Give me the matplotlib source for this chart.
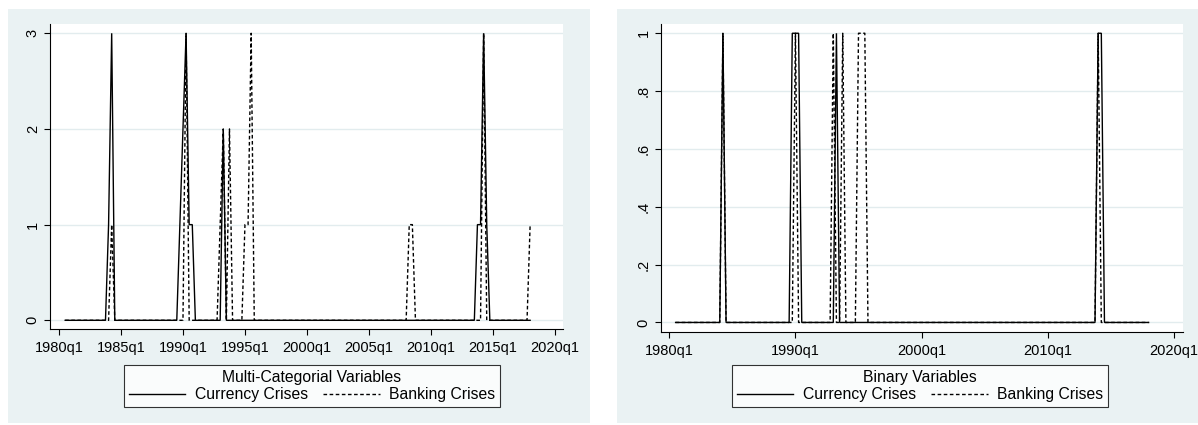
import numpy as np
import pandas as pd
import matplotlib
matplotlib.use("Agg")
import matplotlib.pyplot as plt
from matplotlib.patches import Rectangle

plt.rcParams["font.family"] = ["Liberation Sans", "DejaVu Sans"]

# Quarterly sample
quarters = pd.period_range("1980Q3", "2018Q1", freq="Q")

# Multi-categorial crisis indicators (0 in all other quarters)
currency_multi = {
    "1984Q1": 1, "1984Q2": 3,
    "1989Q4": 1, "1990Q1": 2, "1990Q2": 3, "1990Q3": 1, "1990Q4": 1,
    "1993Q2": 2,
    "2013Q4": 1, "2014Q1": 1, "2014Q2": 3, "2014Q3": 1,
}
banking_multi = {
    "1984Q2": 1,
    "1990Q2": 3,
    "1993Q1": 1, "1993Q2": 2, "1993Q4": 2,
    "1995Q1": 1, "1995Q2": 1, "1995Q3": 3,
    "2008Q2": 1, "2008Q3": 1,
    "2014Q2": 3,
    "2018Q1": 1,
}

# Binary crisis indicators (0 in all other quarters)
currency_binary = {
    "1984Q2": 1,
    "1989Q4": 1, "1990Q1": 1, "1990Q2": 1,
    "1993Q2": 1,
    "2014Q1": 1, "2014Q2": 1,
}
banking_binary = {
    "1984Q2": 1,
    "1990Q1": 1,
    "1993Q1": 1, "1993Q4": 1,
    "1995Q1": 1, "1995Q2": 1, "1995Q3": 1,
    "2014Q1": 1,
}

left_yticks = [0, 1, 2, 3]
left_yticklabels = ["0", "1", "2", "3"]
right_yticks = [0, 0.2, 0.4, 0.6, 0.8, 1.0]
right_yticklabels = ["0", ".2", ".4", ".6", ".8", "1"]
left_xtick_years = [1980, 1985, 1990, 1995, 2000, 2005, 2010, 2015, 2020]
right_xtick_years = [1980, 1990, 2000, 2010, 2020]


def qindex(p):
    return (p.year - 1980) * 4 + (p.quarter - 1)


def build(events):
    s = pd.Series(0.0, index=quarters)
    for k, v in events.items():
        s[pd.Period(k, freq="Q")] = v
    return s


xq = np.array([qindex(p) for p in quarters])

W, H = 1198, 425
fig = plt.figure(figsize=(W / 100, H / 100), dpi=100)
fig.patch.set_facecolor("white")

BG = "#EAF2F3"
GRID = "#E2ECEE"

# graph regions
for x0, x1 in [(8, 590), (617, 1198)]:
    fig.patches.append(Rectangle((x0 / W, 1 - 423 / H), (x1 - x0) / W, (423 - 9) / H,
                                 transform=fig.transFigure, facecolor=BG,
                                 edgecolor="none", zorder=-10))


def px_axes(x0, x1, ytop, ybot):
    return fig.add_axes([x0 / W, 1 - ybot / H, (x1 - x0) / W, (ybot - ytop) / H])


def style(ax, yticks, ylabels, xyears, xlim, ylim):
    ax.set_facecolor("white")
    ax.set_xlim(*xlim)
    ax.set_ylim(*ylim)
    for s in ["top", "right"]:
        ax.spines[s].set_visible(False)
    for s in ["left", "bottom"]:
        ax.spines[s].set_color("black")
        ax.spines[s].set_linewidth(0.8)
    ax.set_yticks(yticks)
    ax.set_yticklabels(ylabels, rotation=90, va="center")
    ax.set_xticks([(y - 1980) * 4 for y in xyears])
    ax.set_xticklabels([f"{y}q1" for y in xyears])
    ax.tick_params(axis="both", direction="out", length=4.3, width=0.8,
                   color="black", labelsize=10.5, labelcolor="black")
    ax.tick_params(axis="x", pad=4.5)
    ax.tick_params(axis="y", pad=3)
    for y in yticks:
        ax.axhline(y, color=GRID, lw=1.0, zorder=0)


DASH = (2.6, 1.8)


def draw(ax, cur, bank):
    ax.plot(xq, build(cur).values, color="black", lw=1.0, solid_joinstyle="miter",
            label="Currency Crises", zorder=3)
    ax.plot(xq, build(bank).values, color="black", lw=1.0, dashes=DASH,
            label="Banking Crises", zorder=4)


def add_legend(ax, title, cx):
    leg = ax.legend(title=title, ncol=2, loc="upper center",
                    bbox_to_anchor=(cx / W, 1 - 365 / H), bbox_transform=fig.transFigure,
                    fontsize=11.3, title_fontsize=11.3, frameon=True, fancybox=False,
                    edgecolor="black", handlelength=3.6, handletextpad=0.6,
                    columnspacing=1.0, borderpad=0.3, labelspacing=0.15, borderaxespad=0)
    leg.get_frame().set_linewidth(0.8)
    leg.get_title().set_color("black")


axL = px_axes(50, 563.3, 24, 329.2)
style(axL, left_yticks, left_yticklabels, left_xtick_years, (-2.9, 162.7), (-0.093, 3.097))
draw(axL, currency_multi, banking_multi)
add_legend(axL, "Multi-Categorial Variables", 312)

axR = px_axes(660.7, 1183.3, 24, 332)
style(axR, right_yticks, right_yticklabels, right_xtick_years, (-2.73, 163.0), (-0.033, 1.032))
draw(axR, currency_binary, banking_binary)
add_legend(axR, "Binary Variables", 920)

fig.savefig("out.png", dpi=100, facecolor="white")
